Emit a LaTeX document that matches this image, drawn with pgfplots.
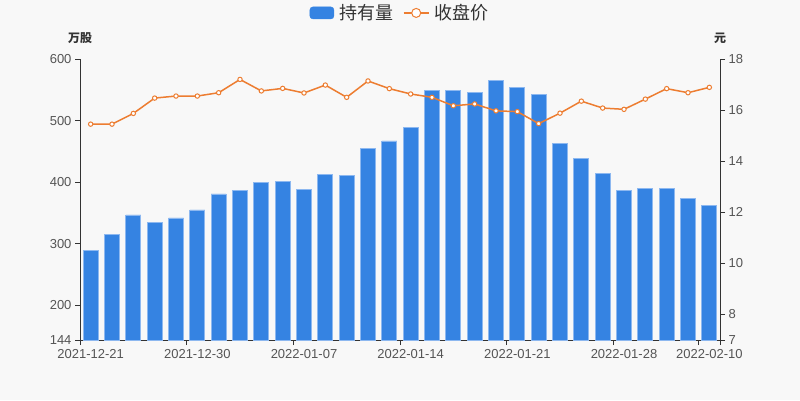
\documentclass[border=0pt]{standalone}
\usepackage{pgfplots}
\pgfplotsset{compat=1.18}
\usepackage{pgfplotstable}
\usepackage{fontspec}
\setmainfont{Liberation Sans}
\newfontfamily\cjk{Noto Sans CJK SC}
\definecolor{bg}{HTML}{F8F8F8}
\definecolor{barblue}{HTML}{3583E2}
\definecolor{baredge}{HTML}{8DB8F0}
\definecolor{lineorange}{HTML}{ED7D31}
\definecolor{axisgray}{HTML}{333333}
\definecolor{labelgray}{HTML}{555555}
\pgfplotstableread{
idx hold price
0 290 15.45
1 316 15.45
2 347 15.87
3 335 16.47
4 342 16.55
5 355 16.55
6 381 16.68
7 386 17.20
8 399 16.75
9 401 16.85
10 388 16.67
11 412 16.98
12 411 16.50
13 455 17.14
14 467 16.84
15 489 16.63
16 549 16.50
17 549 16.17
18 546 16.24
19 565 15.97
20 554 15.94
21 542 15.47
22 463 15.88
23 439 16.35
24 414 16.08
25 386 16.03
26 390 16.43
27 390 16.84
28 373 16.68
29 362 16.89
}\datatable
\pgfplotsset{
  common/.style={
    at={(80pt,60pt)}, anchor=south west, scale only axis,
    width=640pt, height=281pt, xmin=-0.5, xmax=29.5,
    axis line style={axisgray, line width=1pt, -},
    tick align=outside, major tick length=5pt,
    tick style={axisgray, line width=1pt},
    ticklabel style={font=\fontsize{13}{15}\selectfont, text=labelgray},
    /pgf/number format/assume math mode=true,
  }
}
\begin{document}
\begin{tikzpicture}
\useasboundingbox (0,0) rectangle (800pt,400pt);
\fill[bg] (0,0) rectangle (800pt,400pt);
\begin{axis}[common,
  ymin=144, ymax=600,
  axis x line*=bottom, axis y line*=left,
  xtick={-0.5,4.5,9.5,14.5,19.5,24.5,28.5,29.5}, xticklabels={},
  extra x ticks={0,5,10,15,20,25,29},
  extra x tick labels={2021-12-21,2021-12-30,2022-01-07,2022-01-14,2022-01-21,2022-01-28,2022-02-10},
  extra x tick style={tick style={draw=none}, xticklabel style={yshift=-1pt}},
  ytick={144,200,300,400,500,600},
]
\addplot[ybar, bar width=15pt, fill=barblue, draw=baredge, line width=0.8pt] table[x=idx,y=hold]{\datatable};
\end{axis}
\begin{axis}[common,
  ymin=7, ymax=18,
  axis x line=none, axis y line*=right,
  ytick={7,8,10,12,14,16,18},
  legend style={at={(0.5,1.164)}, anchor=center, legend columns=2, draw=none, fill=none,
    font=\cjk\fontsize{18}{20}\selectfont, text=axisgray,
    /tikz/every odd column/.append style={column sep=3pt},
    /tikz/every even column/.append style={column sep=8pt}},
]
\addlegendimage{legend image code/.code={\fill[barblue, rounded corners=3pt] (0pt,-6pt) rectangle (24pt,6pt);}}
\addlegendentry{持有量}
\addplot[lineorange, line width=1.5pt, mark=*, mark size=2.2pt,
  mark options={fill=white, draw=lineorange, line width=1pt},
  legend image code/.code={\draw[lineorange, line width=1.2pt] (0pt,0pt) -- (25pt,0pt); \draw[lineorange, fill=white, line width=1pt] (12.5pt,0pt) circle (4.5pt);}]
  table[x=idx,y=price]{\datatable};
\addlegendentry{收盘价}
\end{axis}
\node[font=\cjk\bfseries\fontsize{12}{14}\selectfont, text=axisgray] at (80pt,362pt) {万股};
\node[font=\cjk\bfseries\fontsize{12}{14}\selectfont, text=axisgray] at (720pt,362pt) {元};
\end{tikzpicture}
\end{document}
